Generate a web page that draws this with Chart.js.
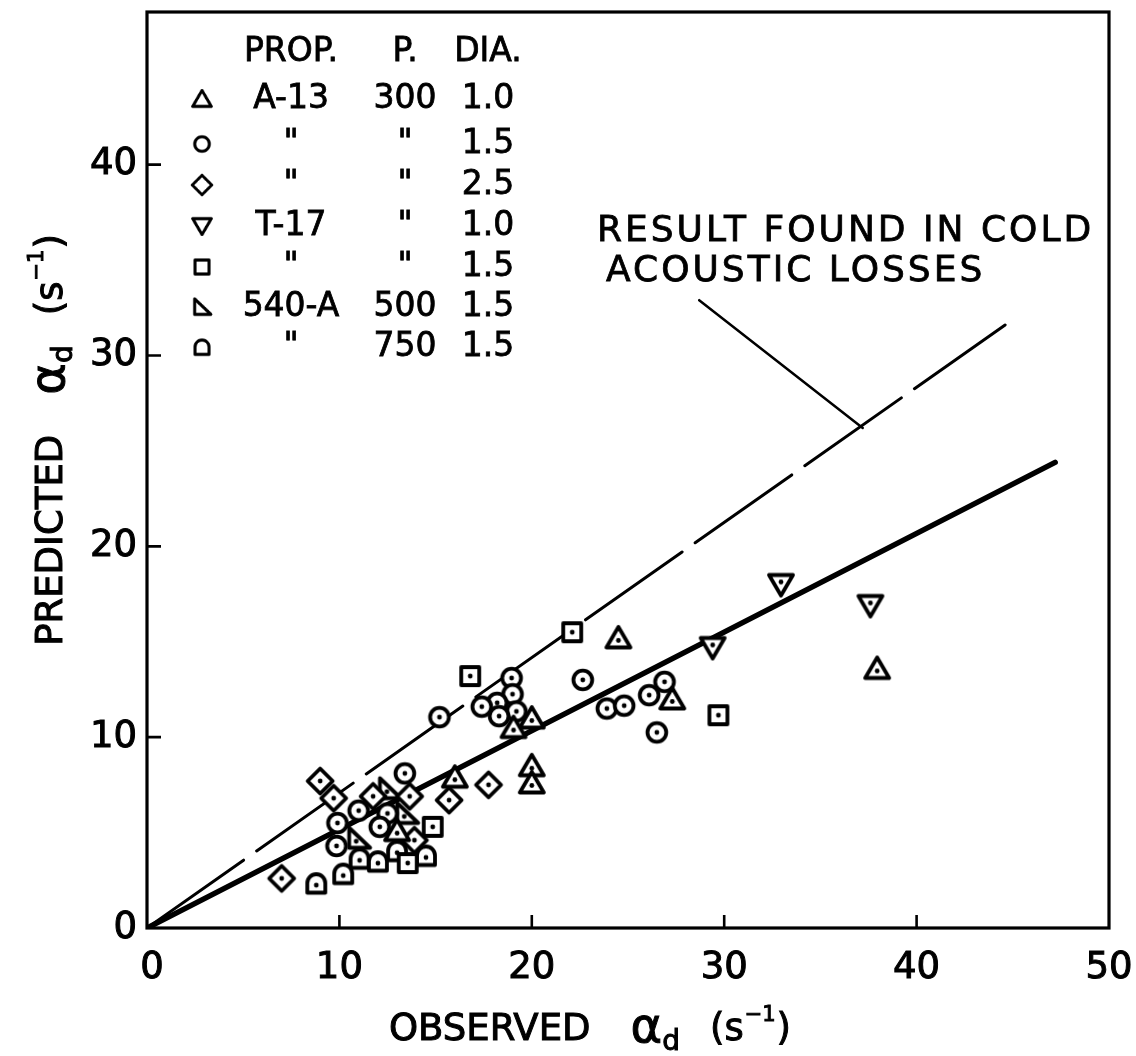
<!DOCTYPE html>
<html>
<head>
<meta charset="utf-8">
<script src="https://cdn.jsdelivr.net/npm/chart.js@4.4.1/dist/chart.umd.min.js"></script>
<style>
  html, body { margin: 0; background: #fff; }
</style>
</head>
<body>
<canvas id="chart" width="1136" height="1056"></canvas>
<script>
// --- data (observed, predicted) ---
const xTickLabels = [0, 10, 20, 30, 40, 50];
const yTickLabels = [0, 10, 20, 30, 40];

// A-13, 300, dia 1.0  (triangle)
const a13Dia10 = [[24.5, 15.2], [37.95, 13.6], [27.3, 12.0], [20.0, 11.0], [19.05, 10.5],
  [20.0, 8.5], [20.0, 7.6], [16.0, 7.9], [13.0, 5.1]];
// A-13, 300, dia 1.5  (circle)
const a13Dia15 = [[13.4, 8.1], [11.0, 6.15], [12.5, 6.0], [9.9, 5.5], [12.1, 5.3], [9.85, 4.3],
  [18.95, 13.1], [19.0, 12.25], [18.2, 11.8], [17.4, 11.6], [19.2, 11.35], [18.3, 11.1],
  [15.2, 11.05], [22.65, 13.0], [26.9, 12.9], [26.1, 12.2], [23.9, 11.5], [24.8, 11.65], [26.5, 10.25]];
// A-13, 300, dia 2.5  (diamond)
const a13Dia25 = [[9.0, 7.7], [9.7, 6.8], [11.75, 6.9], [13.65, 6.9], [15.7, 6.7], [13.9, 4.6],
  [17.75, 7.5], [7.0, 2.6]];
// T-17, 300, dia 1.0  (inverted triangle)
const t17Dia10 = [[32.95, 18.0], [37.6, 16.9], [29.4, 14.7]];
// T-17, 300, dia 1.5  (square)
const t17Dia15 = [[22.1, 15.5], [16.8, 13.2], [29.7, 11.15], [14.85, 5.3], [13.55, 3.4]];
// 540-A, 500, dia 1.5  (right triangle)
const a540P500 = [[12.6, 7.3], [13.5, 6.0], [11.0, 4.7]];
// 540-A, 750, dia 1.5  (dome)
const a540P750 = [[13.0, 4.05], [14.5, 3.8], [11.05, 3.65], [12.0, 3.5], [10.2, 2.85], [8.8, 2.35]];

// lines
const fitLine = [[0, 0], [47.2, 24.4]];
const coldLine = [[0, 0], [44.6, 31.6]];
const leaderLine = [[28.7, 32.9], [37.2, 26.2]];

// legend table
const legendHead = ["PROP.", "P.", "DIA."];
const legendShape = ["up", "circle", "diamond", "down", "square", "right", "dome"];
const legendProp = ["A-13", '"', '"', "T-17", '"', "540-A", '"'];
const legendP = ["300", '"', '"', '"', '"', "500", "750"];
const legendDia = ["1.0", "1.5", "2.5", "1.0", "1.5", "1.5", "1.5"];
const legendRowY = [99, 144, 185, 226, 267, 307, 347];

const noteLines = ["RESULT FOUND IN COLD", "ACOUSTIC LOSSES"];

const FONT = '"DejaVu Sans"';

// --- marker images (hollow, white filled, center dot) ---
function marker(shape, dot) {
  const s = 36, m = s / 2;
  const c = document.createElement("canvas");
  c.width = c.height = s;
  const g = c.getContext("2d");
  g.lineWidth = 3.8;
  g.lineJoin = "round";
  g.strokeStyle = "#000";
  g.fillStyle = "#fff";
  let dx = m, dy = m;
  g.beginPath();
  if (shape === "circle") {
    g.arc(m, m, 9.4, 0, Math.PI * 2);
  } else if (shape === "square") {
    g.rect(m - 9, m - 9, 18, 18);
  } else if (shape === "diamond") {
    g.moveTo(m, m - 12.5); g.lineTo(m + 12.5, m); g.lineTo(m, m + 12.5); g.lineTo(m - 12.5, m); g.closePath();
  } else if (shape === "up") {
    g.moveTo(m, m - 11); g.lineTo(m + 12, m + 9.5); g.lineTo(m - 12, m + 9.5); g.closePath();
    dy = m + 2.5;
  } else if (shape === "down") {
    g.moveTo(m - 12, m - 9.5); g.lineTo(m + 12, m - 9.5); g.lineTo(m, m + 11); g.closePath();
    dy = m - 2.5;
  } else if (shape === "right") {
    g.moveTo(m - 9.5, m - 10.5); g.lineTo(m + 11.5, m + 9.5); g.lineTo(m - 9.5, m + 9.5); g.closePath();
    dx = m - 2.5; dy = m + 3;
  } else if (shape === "dome") {
    g.moveTo(m - 9, m + 9.5); g.lineTo(m - 9, m); g.arc(m, m, 9, Math.PI, 0); g.lineTo(m + 9, m + 9.5); g.closePath();
    dy = m + 2;
  }
  g.fill();
  g.stroke();
  if (dot) {
    g.beginPath();
    g.arc(dx, dy, 2.4, 0, Math.PI * 2);
    g.fillStyle = "#000";
    g.fill();
  }
  return c;
}

const toXY = (arr) => arr.map(([x, y]) => ({ x, y }));

function pointSet(label, data, shape) {
  return {
    type: "scatter",
    label,
    data: toXY(data),
    pointStyle: marker(shape, true),
    pointRadius: 11,
    order: 1,
  };
}

function lineSet(label, data, width, dash) {
  return {
    type: "line",
    label,
    data: toXY(data),
    borderColor: "#000",
    borderWidth: width,
    borderDash: dash,
    borderCapStyle: "round",
    pointRadius: 0,
    fill: false,
    order: 10,
  };
}

// slightly heavier lettering than plain fillText
function ink(ctx, text, x, y) {
  ctx.fillText(text, x, y);
  ctx.strokeText(text, x, y);
}

// axis title with alpha-sub-d and s^-1
function axisTitle(ctx, word, cx, cy, vertical) {
  const parts = [
    { t: word, f: "37px " + FONT, dy: 0, gap: 40 },
    { t: "α", f: "48px " + FONT, dy: 0, gap: 0 },
    { t: "d", f: "28px " + FONT, dy: 13, gap: 30 },
    { t: "(s", f: "37px " + FONT, dy: 0, gap: 1 },
    { t: "−1", f: "21px " + FONT, dy: -14, gap: 1 },
    { t: ")", f: "37px " + FONT, dy: 0, gap: 0 },
  ];
  ctx.save();
  ctx.translate(cx, cy);
  if (vertical) ctx.rotate(-Math.PI / 2);
  ctx.fillStyle = "#000";
  ctx.strokeStyle = "#000";
  ctx.lineWidth = 1;
  ctx.textBaseline = "middle";
  ctx.textAlign = "left";
  let total = 0;
  parts.forEach((p) => { ctx.font = p.f; p.w = ctx.measureText(p.t).width; total += p.w + p.gap; });
  let x = -total / 2;
  parts.forEach((p) => { ctx.font = p.f; ink(ctx, p.t, x, p.dy); x += p.w + p.gap; });
  ctx.restore();
}

const paperPlugin = {
  id: "paper",
  afterDraw(chart) {
    const { ctx, chartArea: a } = chart;
    const xs = chart.scales.x, ys = chart.scales.y;
    ctx.save();
    ctx.strokeStyle = "#000";
    ctx.fillStyle = "#000";
    ctx.lineWidth = 3.2;
    ctx.strokeRect(a.left, a.top, a.right - a.left, a.bottom - a.top);

    // inward tick marks
    ctx.lineWidth = 2.6;
    ctx.beginPath();
    xs.ticks.forEach((t) => {
      if (t.value <= xs.min || t.value >= xs.max) return;
      const px = xs.getPixelForValue(t.value);
      ctx.moveTo(px, a.bottom); ctx.lineTo(px, a.bottom - 13);
    });
    ys.ticks.forEach((t) => {
      if (t.value <= ys.min || t.value >= ys.max) return;
      const py = ys.getPixelForValue(t.value);
      ctx.moveTo(a.left, py); ctx.lineTo(a.left + 14, py);
    });
    ctx.stroke();

    // tick labels
    ctx.lineWidth = 1;
    ctx.font = "37px " + FONT;
    ctx.textBaseline = "middle";
    ctx.textAlign = "center";
    xs.ticks.forEach((t) => ink(ctx, String(t.value), xs.getPixelForValue(t.value) + (t.value === 0 ? 5 : 0), a.bottom + 40));
    ctx.textAlign = "right";
    ys.ticks.forEach((t) => ink(ctx, String(t.value), a.left - 10, ys.getPixelForValue(t.value)));

    // legend table
    ctx.textAlign = "center";
    ctx.font = "33px " + FONT;
    ctx.lineWidth = 0.8;
    const cols = [291, 405, 488];
    legendHead.forEach((h, i) => ink(ctx, h, cols[i], 52));
    legendShape.forEach((shape, i) => {
      const yy = legendRowY[i];
      ctx.drawImage(marker(shape, false), 202 - 14, yy - 14, 28, 28);
      ink(ctx, legendProp[i], cols[0], yy);
      ink(ctx, legendP[i], cols[1], yy);
      ink(ctx, legendDia[i], cols[2], yy);
    });

    // note
    ctx.textAlign = "left";
    ctx.font = "36px " + FONT;
    ctx.letterSpacing = "3px";
    ink(ctx, noteLines[0], 597, 232);
    ink(ctx, noteLines[1], 606, 272);
    ctx.letterSpacing = "0px";
    ctx.restore();

    axisTitle(ctx, "OBSERVED", 590, 1030, false);
    axisTitle(ctx, "PREDICTED", 52, 440, true);
  },
};

new Chart(document.getElementById("chart"), {
  data: {
    datasets: [
      pointSet("A-13 300 1.0", a13Dia10, "up"),
      pointSet("A-13 300 1.5", a13Dia15, "circle"),
      pointSet("A-13 300 2.5", a13Dia25, "diamond"),
      pointSet("T-17 300 1.0", t17Dia10, "down"),
      pointSet("T-17 300 1.5", t17Dia15, "square"),
      pointSet("540-A 500 1.5", a540P500, "right"),
      pointSet("540-A 750 1.5", a540P750, "dome"),
      lineSet("fit", fitLine, 5.5, []),
      lineSet("cold acoustic losses", coldLine, 3, [118, 16]),
      lineSet("leader", leaderLine, 2.5, []),
    ],
  },
  options: {
    responsive: false,
    animation: false,
    devicePixelRatio: 1,
    layout: { padding: { top: 10, right: 27, left: 0, bottom: 0 } },
    plugins: { legend: { display: false }, tooltip: { enabled: false } },
    scales: {
      x: {
        type: "linear",
        min: 0,
        max: 50,
        afterBuildTicks: (s) => { s.ticks = xTickLabels.map((v) => ({ value: v })); },
        afterFit: (s) => { s.height = 128; },
        grid: { display: false, drawTicks: false },
        border: { display: false },
        ticks: { display: false },
      },
      y: {
        type: "linear",
        min: 0,
        max: 48,
        afterBuildTicks: (s) => { s.ticks = yTickLabels.map((v) => ({ value: v })); },
        afterFit: (s) => { s.width = 147; },
        grid: { display: false, drawTicks: false },
        border: { display: false },
        ticks: { display: false },
      },
    },
  },
  plugins: [paperPlugin],
});
</script>
</body>
</html>
